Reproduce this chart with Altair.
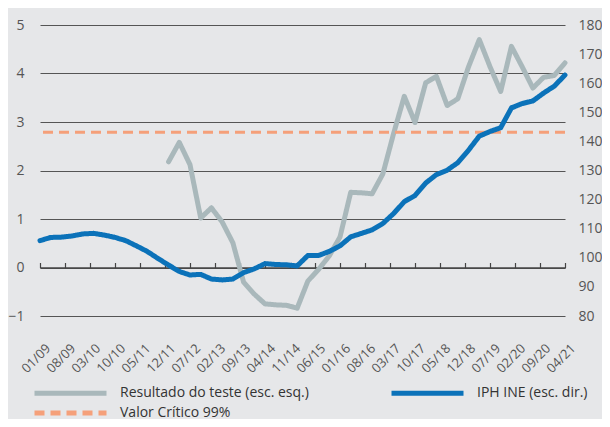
import altair as alt
import pandas as pd

# ---- data ----
tick_labels = ["01/09", "08/09", "03/10", "10/10", "05/11", "12/11", "07/12", "02/13",
               "09/13", "04/14", "11/14", "06/15", "01/16", "08/16", "03/17", "10/17",
               "05/18", "12/18", "07/19", "02/20", "09/20", "04/21"]
tick_months = list(range(0, 148, 7))          # months since Jan 2009
quarter_months = list(range(0, 150, 3))      # quarterly observations Jan 2009 .. Apr 2021

iph_ine = [105.9, 107.0, 107.1, 107.5, 108.2, 108.4, 107.8, 107.0, 105.9, 104.1,
           102.2, 99.8, 97.5, 95.3, 94.1, 94.3, 92.7, 92.4, 92.7, 94.9,
           96.2, 98.0, 97.7, 97.6, 97.2, 100.8, 100.8, 102.2, 104.1, 107.2,
           108.4, 109.6, 111.8, 115.2, 119.3, 121.4, 125.7, 128.6, 130.1, 132.7,
           137.0, 141.8, 143.4, 144.7, 151.5, 153.0, 153.9, 156.6, 159.0, 162.8]

teste_first_quarter = 12
resultado_teste = [2.18, 2.58, 2.12, 1.02, 1.23, 0.94, 0.51, -0.30, -0.55, -0.75,
                   -0.77, -0.78, -0.84, -0.28, -0.04, 0.24, 0.63, 1.55, 1.54, 1.52,
                   1.93, 2.76, 3.53, 2.99, 3.81, 3.94, 3.34, 3.48, 4.14, 4.70,
                   4.14, 3.63, 4.56, 4.14, 3.70, 3.92, 3.96, 4.22]

valor_critico = 2.79

series_names = ["Resultado do teste (esc. esq.)", "IPH INE (esc. dir.)", "Valor Crítico 99%"]
series_colors = ["#a9b8bb", "#0b72b9", "#f5a07a"]
series_dash = [[1, 0], [1, 0], [10, 6]]
# legend fills column by column: column 1 = test result + critical value, column 2 = IPH
legend_order = [series_names[0], series_names[2], series_names[1]]

left_ticks = [-1, 0, 1, 2, 3, 4, 5]
right_ticks = list(range(80, 181, 10))

# ---- tables ----
df_iph = pd.DataFrame({"m": quarter_months, "v": iph_ine, "s": series_names[1]})
df_teste = pd.DataFrame({"m": quarter_months[teste_first_quarter:teste_first_quarter + len(resultado_teste)],
                         "v": resultado_teste, "s": series_names[0]})
df_crit = pd.DataFrame({"v": [valor_critico], "s": [series_names[2]]})

FONT = "Open Sans"
label_expr = "[" + ",".join("'%s'" % t for t in tick_labels) + "][round(datum.value/7)]"

legend = alt.Legend(
    title=None, orient="none", legendX=-8, legendY=360.5, columns=2,
    values=legend_order,
    symbolType="M-7.2,0H7.2", symbolSize=100, symbolStrokeWidth=5,
    symbolOffset=31, labelOffset=42, columnPadding=72, rowPadding=-1,
    labelFontSize=14, labelFont=FONT, labelColor="#333333", padding=0,
    labelLimit=400,
)
color = alt.Color("s:N", scale=alt.Scale(domain=series_names, range=series_colors), legend=legend)
dash = alt.StrokeDash("s:N", scale=alt.Scale(domain=series_names, range=series_dash), legend=legend)

x_scale = alt.Scale(domain=[0, 147], nice=False, zero=False)

x_bottom = alt.X("m:Q", scale=x_scale, title=None,
                 axis=alt.Axis(values=tick_months, labelExpr=label_expr, labelAngle=-45,
                               labelAlign="right", labelBaseline="middle", ticks=False,
                               tickSize=0, domain=False, grid=False, labelPadding=30,
                               labelOffset=8,
                               labelFlush=False, labelOverlap=False, labelBound=False,
                               labelFontSize=13, labelFont=FONT, labelColor="#555555"))
x_top = alt.X("m:Q", scale=x_scale, title=None,
              axis=alt.Axis(orient="top", offset=-242.5, values=tick_months, labels=False,
                            ticks=True, tickSize=5, tickColor="#444444", tickWidth=1.2,
                            domain=True, domainColor="#444444", domainWidth=1.5, grid=False))

y_left = alt.Y("v:Q", title=None,
               scale=alt.Scale(domain=[-1, 5], nice=False, zero=False),
               axis=alt.Axis(values=left_ticks, grid=True, gridColor="#555555", gridWidth=1,
                             ticks=False, tickSize=0, domain=False, labelPadding=16,
                             labelFontSize=14, labelFont=FONT, labelColor="#555555"))
y_right = alt.Y("v:Q", title=None,
                scale=alt.Scale(domain=[80, 180], nice=False, zero=False),
                axis=alt.Axis(orient="right", values=right_ticks, grid=False, ticks=False,
                              tickSize=0, domain=False, labelPadding=13,
                              labelFontSize=14, labelFont=FONT, labelColor="#555555"))

grey_line = alt.Chart(df_teste).mark_line(strokeWidth=5, strokeCap="round", strokeJoin="round").encode(
    x=x_bottom, y=y_left, color=color, strokeDash=dash)
crit_rule = alt.Chart(df_crit).mark_rule(strokeWidth=3).encode(
    y=alt.Y("v:Q"), color=color, strokeDash=dash)
left = alt.layer(grey_line, crit_rule)

blue_line = alt.Chart(df_iph).mark_line(strokeWidth=5, strokeCap="round", strokeJoin="round").encode(
    x=x_top, y=y_right, color=color, strokeDash=dash)

chart = alt.layer(left, blue_line).resolve_scale(y="independent").resolve_axis(x="independent").properties(
    width=525, height=291,
    padding={"left": 32, "top": 17, "right": 37, "bottom": 103},
    autosize=alt.AutoSizeParams(type="none"),
    background="#e6e7e9",
).configure_view(stroke=None)

chart.save("out.html", embed_options={"renderer": "svg", "actions": False})
